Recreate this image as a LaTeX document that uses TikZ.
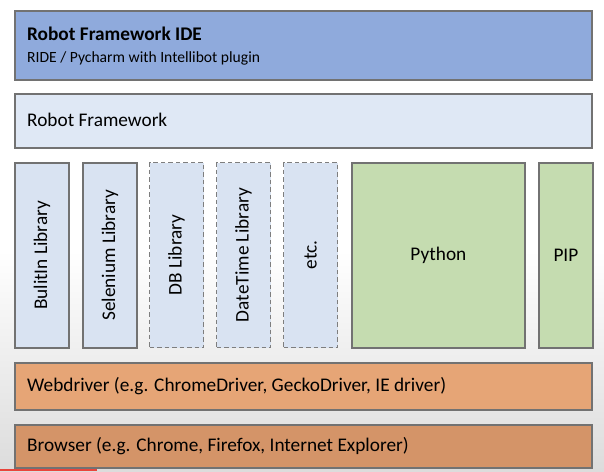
\documentclass[tikz,border=0pt]{standalone}
\usepackage{fontspec}
\setmainfont{Carlito}
\definecolor{bordergray}{HTML}{727272}
\definecolor{dashgray}{HTML}{7E7E7E}
\definecolor{idefill}{HTML}{8FAADC}
\definecolor{rffill}{HTML}{DFE8F5}
\definecolor{libfill}{HTML}{D9E3F2}
\definecolor{greenfill}{HTML}{C5DCB0}
\definecolor{wdfill}{HTML}{E6A576}
\definecolor{brfill}{HTML}{D49468}
\definecolor{bggray}{HTML}{DCDCDC}
\definecolor{barred}{HTML}{E8453C}
\tikzset{
  x=1pt, y=-1pt,
  layer/.style={draw=bordergray, line width=1.8pt, inner sep=0pt, anchor=north west},
  solidlib/.style={layer, fill=libfill},
  dashlib/.style={draw=dashgray, line width=1.2pt, dash pattern=on 4.5pt off 3pt, fill=libfill, inner sep=0pt, anchor=north west},
  greenbox/.style={layer, fill=greenfill},
  lbl/.style={inner sep=0pt, font=\fontsize{19.3}{23}\selectfont, text=black},
  vlbl/.style={lbl, rotate=90},
}
\begin{document}
\begin{tikzpicture}
\useasboundingbox (0,0) rectangle (604,471);
% background
\fill[white] (0,0) rectangle (604,250);
\shade[top color=white, bottom color=bggray] (0,250) rectangle (604,471);
% IDE layer
\node[layer, fill=idefill, minimum width=577, minimum height=69] (ide) at (14,10) {};
\node[lbl, anchor=base west, font=\bfseries\fontsize{19.3}{23}\selectfont] (idetitle) at (27,40) {Robot Framework IDE};
\node[lbl, anchor=base west, font=\fontsize{15.6}{18}\selectfont] (idesub) at (27,62) {RIDE / Pycharm with Intellibot plugin};
% Robot Framework layer
\node[layer, fill=rffill, minimum width=577, minimum height=54] (rf) at (14,93) {};
\node[lbl, anchor=west] (rft) at (27,120) {Robot Framework};
% libraries
\node[solidlib, minimum width=54, minimum height=185] (builtin) at (14,162) {};
\node[vlbl] (builtint) at (builtin.center) {BulitIn Library};
\node[solidlib, minimum width=54, minimum height=185] (selenium) at (82,162) {};
\node[vlbl] (seleniumt) at (selenium.center) {Selenium Library};
\node[dashlib, minimum width=54, minimum height=185] (db) at (149,162) {};
\node[vlbl] (dbt) at (db.center) {DB Library};
\node[dashlib, minimum width=54, minimum height=185] (dt) at (216,162) {};
\node[vlbl] (dtt) at (dt.center) {DateTime Library};
\node[dashlib, minimum width=54, minimum height=185] (etc) at (283,162) {};
\node[vlbl] (etct) at (etc.center) {etc.};
\node[greenbox, minimum width=173, minimum height=185] (python) at (351,162) {};
\node[lbl] (pythont) at (python.center) {Python};
\node[greenbox, minimum width=54, minimum height=185] (pip) at (538,162) {};
\node[lbl] (pipt) at (pip.center) {PIP};
% Webdriver layer
\node[layer, fill=wdfill, minimum width=577, minimum height=47] (wd) at (14,362) {};
\node[lbl, anchor=west] (wdt) at (27,386) {Webdriver (e.g. ChromeDriver, GeckoDriver, IE driver)};
% Browser layer
\node[layer, fill=brfill, minimum width=577, minimum height=43] (br) at (14,424) {};
\node[lbl, anchor=west] (brt) at (27,446) {Browser (e.g. Chrome, Firefox, Internet Explorer)};
% progress bar strip
\fill[barred] (0,468.5) rectangle (97,471);
\end{tikzpicture}
\end{document}
